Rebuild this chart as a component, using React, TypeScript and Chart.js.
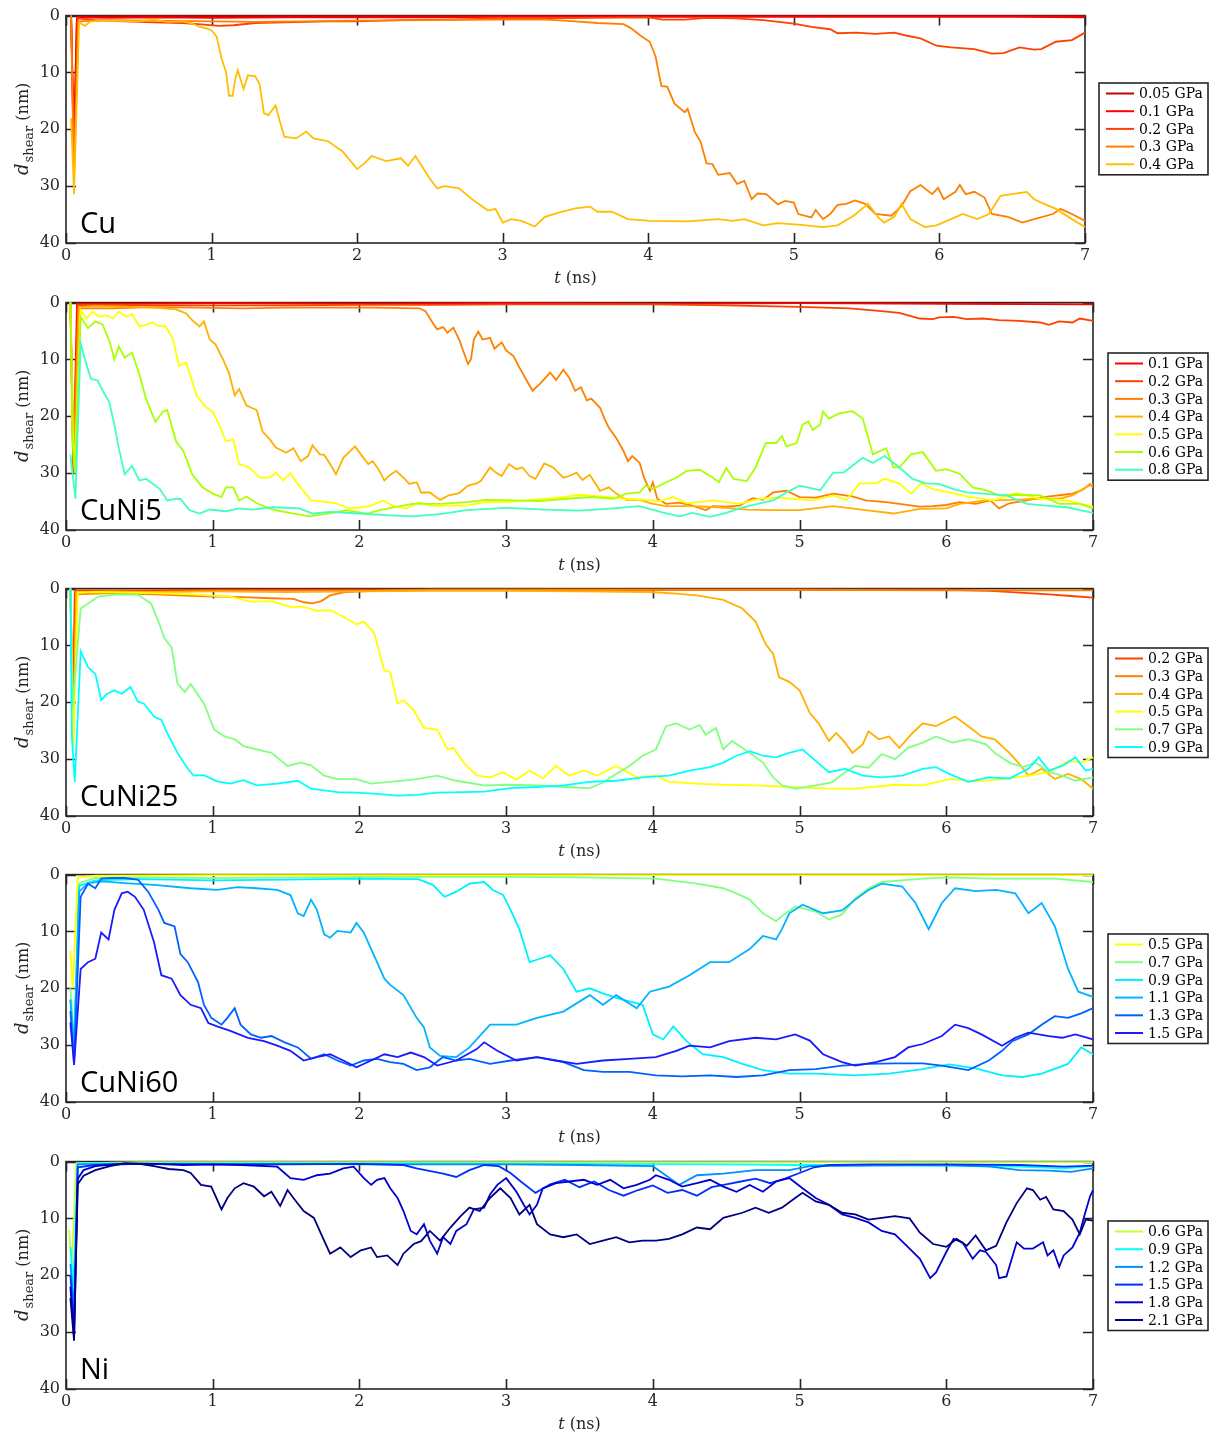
import React, { useEffect, useRef } from 'react';
import { Chart, registerables } from 'chart.js';
Chart.register(...registerables);

type Pt = [number, number];

// ---------- tick labels ----------
const xTicks = [0, 1, 2, 3, 4, 5, 6, 7];
const yTicks = [0, 10, 20, 30, 40];

// ---------- Cu ----------
const cuNames = ['0.05 GPa', '0.1 GPa', '0.2 GPa', '0.3 GPa', '0.4 GPa'];
const cuColors = ['#c80000', '#ff0000', '#ff4000', '#ff8000', '#ffbf00'];
const cu005: Pt[] = [[0.035,0],[0.055,22],[0.075,0.2],[0.5,0.1],[1,0.1],[2,0.1],[3,0.1],[4,0.1],[5,0.1],[6,0.1],[7,0.1]];
const cu01: Pt[] = [[0.035,0],[0.055,26],[0.075,0.3],[0.3,0.4],[0.6,0.3],[1,0.4],[1.5,0.3],[2,0.3],[2.5,0.3],[3,0.2],[3.5,0.2],[4,0.2],[4.5,0.2],[5,0.2],[5.5,0.2],[6,0.2],[6.5,0.2],[7,0.3]];
const cu02: Pt[] = [[0.035,0],[0.055,28],[0.08,0.5],[0.2,0.8],[0.4,1.0],[0.6,1.2],[0.8,1.3],[0.95,1.6],[1.05,1.8],[1.15,1.7],[1.3,1.3],[1.5,1.2],[1.8,1.0],[2.0,1.0],[2.3,0.8],[2.6,0.7],[3.0,0.5],[3.3,0.5],[3.6,0.4],[4.0,0.3],[4.1,0.7],[4.25,0.7],[4.4,0.4],[4.6,0.5],[4.79,0.8],[5.0,1.4],[5.12,2.0],[5.25,2.4],[5.3,3.1],[5.43,3.0],[5.56,3.2],[5.69,3.0],[5.77,3.5],[5.87,4.0],[5.98,5.3],[6.08,5.6],[6.24,5.9],[6.36,6.7],[6.44,6.6],[6.55,5.6],[6.65,6.0],[6.7,5.9],[6.8,4.6],[6.91,4.3],[7.0,3.0]];
const cu03: Pt[] = [[0.035,0],[0.055,29],[0.085,1.0],[0.3,0.8],[0.6,0.9],[1.0,1.0],[1.3,1.1],[1.6,1.0],[2.0,0.9],[2.5,0.8],[3.0,0.7],[3.3,0.7],[3.5,1.0],[3.65,1.3],[3.83,1.5],[3.88,2.2],[3.95,3.6],[4.01,4.6],[4.05,7.2],[4.09,12.4],[4.13,12.5],[4.18,15.5],[4.25,17],[4.27,16.4],[4.32,20.5],[4.36,22.2],[4.4,26],[4.44,26.1],[4.48,28],[4.56,27.7],[4.61,29.6],[4.66,29.1],[4.71,32.3],[4.75,31.3],[4.81,31.4],[4.89,33.2],[4.94,32.6],[5.0,32.9],[5.03,34.9],[5.12,35.5],[5.15,34.2],[5.2,35.8],[5.25,34.9],[5.3,33.3],[5.36,33.1],[5.42,32.5],[5.49,33.1],[5.56,34.9],[5.67,35.2],[5.74,33.5],[5.8,30.9],[5.87,29.8],[5.95,31.4],[5.99,30.3],[6.03,32.3],[6.11,31],[6.14,29.8],[6.18,31.4],[6.24,31],[6.31,32],[6.36,34.9],[6.47,35.4],[6.57,36.4],[6.65,35.8],[6.78,34.9],[6.83,34.0],[6.91,34.9],[7.0,36.1]];
const cu04: Pt[] = [[0.035,18],[0.055,31.4],[0.09,1.2],[0.13,1.8],[0.17,1.0],[0.3,0.9],[0.5,1.0],[0.6,0.7],[0.7,1.1],[0.8,1.0],[0.87,1.4],[0.92,2.0],[0.97,2.3],[1.0,2.6],[1.035,3.7],[1.07,7.7],[1.1,10],[1.12,14.1],[1.145,14.1],[1.16,11.5],[1.18,9.6],[1.22,12.9],[1.25,10.5],[1.3,10.7],[1.33,12.1],[1.36,17.2],[1.39,17.5],[1.44,15.8],[1.47,18.7],[1.5,21.3],[1.58,21.6],[1.65,20.4],[1.7,21.6],[1.8,22.1],[1.9,23.9],[2.0,27],[2.05,26],[2.1,24.7],[2.2,25.6],[2.3,25.1],[2.35,26.4],[2.4,24.7],[2.5,28.7],[2.55,30.4],[2.6,30],[2.7,30.4],[2.8,32.5],[2.85,33.4],[2.9,34.3],[2.95,34],[3.0,36.4],[3.06,35.8],[3.13,36.1],[3.22,37.1],[3.29,35.4],[3.39,34.6],[3.5,33.9],[3.6,33.6],[3.65,34.5],[3.75,34.5],[3.86,35.8],[4.01,36.1],[4.27,36.2],[4.48,35.8],[4.58,36.1],[4.66,35.8],[4.79,36.9],[4.89,36.5],[5.05,36.8],[5.2,37.2],[5.3,36.9],[5.41,35.2],[5.51,33.1],[5.58,35.5],[5.62,36.4],[5.69,35.4],[5.74,33.1],[5.8,35.8],[5.9,37.2],[5.98,36.9],[6.08,35.8],[6.16,34.9],[6.26,35.8],[6.34,34.9],[6.42,31.7],[6.52,31.3],[6.6,31.0],[6.65,32.3],[6.7,32.9],[6.8,34],[6.91,35.8],[7.0,37.2]];

// ---------- CuNi5 ----------
const n5Names = ['0.1 GPa', '0.2 GPa', '0.3 GPa', '0.4 GPa', '0.5 GPa', '0.6 GPa', '0.8 GPa'];
const n5Colors = ['#ff0000', '#ff4000', '#ff8000', '#ffb000', '#ffff00', '#aaff00', '#40ffc0'];
const n5_01: Pt[] = [[0.03,0],[0.05,30],[0.075,0.2],[0.5,0.2],[1,0.1],[2,0.2],[3,0.1],[4,0.2],[5,0.1],[6,0.2],[7,0.3]];
const n5_02: Pt[] = [[0.03,0],[0.05,29],[0.08,0.5],[0.3,0.4],[0.6,0.5],[1,0.5],[1.5,0.5],[2,0.4],[2.5,0.4],[3,0.3],[3.5,0.3],[4,0.3],[4.5,0.5],[5,0.75],[5.34,1.0],[5.52,1.4],[5.68,1.8],[5.82,2.8],[5.91,2.9],[5.95,2.6],[6.05,2.5],[6.14,2.9],[6.25,2.8],[6.36,3.1],[6.5,3.2],[6.64,3.5],[6.7,3.9],[6.77,3.3],[6.86,3.5],[6.91,2.8],[7.0,3.2]];
const n5_03: Pt[] = [[0.03,0],[0.05,28],[0.085,1.0],[0.3,1.0],[0.6,0.8],[0.9,0.9],[1.2,1.0],[1.5,0.9],[1.8,0.9],[2.1,0.9],[2.41,1.0],[2.45,1.5],[2.5,3.6],[2.53,4.7],[2.57,4.3],[2.6,5.3],[2.64,4.4],[2.68,6.5],[2.72,9.4],[2.74,10.8],[2.76,10],[2.78,6.5],[2.81,5.1],[2.84,6.5],[2.89,6.2],[2.92,8.1],[2.97,7],[3.0,8.4],[3.05,9.4],[3.09,11.4],[3.14,13.7],[3.18,15.5],[3.23,14.3],[3.3,12.3],[3.34,13.6],[3.39,11.8],[3.43,13.2],[3.47,15.5],[3.51,14.9],[3.55,17.2],[3.58,16.9],[3.64,18.5],[3.67,20.4],[3.7,22],[3.75,23.8],[3.8,26.1],[3.83,27.9],[3.86,27],[3.91,28.2],[3.94,30.8],[3.98,33.1],[4.0,31.6],[4.03,34.5],[4.09,35.4],[4.18,35.2],[4.27,35.7],[4.36,36.5],[4.41,35.8],[4.5,35.9],[4.59,35.7],[4.68,34.4],[4.75,34.7],[4.82,33.4],[4.91,33.1],[5.0,34.2],[5.11,34.3],[5.23,33.6],[5.36,34.1],[5.45,34.8],[5.59,35.1],[5.68,35.4],[5.82,35.9],[5.91,35.8],[6.0,35.6],[6.09,35.1],[6.2,35.4],[6.3,34.8],[6.36,36.2],[6.43,35.3],[6.55,34.8],[6.66,34.2],[6.8,33.8],[6.86,33.6],[6.93,32.9],[6.98,31.9],[7.0,32.5]];
const n5_04: Pt[] = [[0.03,0],[0.045,16.9],[0.06,30],[0.09,0.8],[0.2,0.6],[0.4,0.7],[0.6,0.9],[0.75,1.2],[0.82,1.9],[0.86,3.1],[0.91,4.2],[0.94,3.3],[0.98,6.5],[1.02,7.4],[1.07,10],[1.11,12.3],[1.15,16.3],[1.18,15.2],[1.23,18.1],[1.3,18.9],[1.34,22.7],[1.39,24.1],[1.43,25.5],[1.5,26.4],[1.55,25.6],[1.6,27.9],[1.65,27],[1.68,25.1],[1.73,26.7],[1.76,26.8],[1.8,28.4],[1.84,30.2],[1.89,27.3],[1.97,25.3],[2.01,26.7],[2.06,28.4],[2.09,27.9],[2.13,29.3],[2.17,31.3],[2.2,30.5],[2.25,29.6],[2.3,30.8],[2.34,31.9],[2.39,31.6],[2.42,33.4],[2.48,33.4],[2.55,34.7],[2.61,33.9],[2.68,33.5],[2.74,32.2],[2.8,31.8],[2.83,31.3],[2.89,29],[2.93,29.9],[2.97,30.5],[3.02,28.4],[3.07,29.3],[3.11,29],[3.16,30.5],[3.2,31],[3.26,28.3],[3.32,29],[3.39,30.8],[3.43,30.5],[3.48,29.9],[3.52,31.2],[3.57,30.3],[3.64,33.1],[3.7,32.5],[3.75,33.6],[3.82,34.7],[3.91,34.7],[4.0,35.4],[4.09,35.8],[4.27,35.8],[4.45,36],[4.64,36.4],[4.82,36.5],[5.0,36.5],[5.23,35.8],[5.45,36.5],[5.64,37.1],[5.82,36.3],[6.0,36.2],[6.09,35.4],[6.27,34.8],[6.45,34.7],[6.64,34.5],[6.77,34.5],[6.86,33.9],[6.95,32.5],[7.0,31.9]];
const n5_05: Pt[] = [[0.03,0],[0.045,22.1],[0.06,29],[0.1,1.3],[0.14,2.8],[0.18,1.6],[0.23,2.5],[0.27,2.2],[0.32,2.8],[0.36,1.6],[0.41,2.5],[0.45,2.0],[0.5,4.2],[0.545,3.9],[0.59,3.5],[0.625,4.1],[0.68,4.2],[0.73,6.5],[0.77,11.1],[0.82,10.6],[0.89,16.3],[0.95,18.3],[1.0,19.2],[1.045,21.5],[1.09,24.4],[1.14,24.1],[1.18,28.4],[1.25,29],[1.32,30.8],[1.39,30.8],[1.43,29.9],[1.48,31.3],[1.53,30],[1.57,31.6],[1.62,33.2],[1.67,34.8],[1.75,35],[1.84,35.3],[1.93,36.2],[2.01,36],[2.08,35.7],[2.16,34.8],[2.23,35.8],[2.32,36.2],[2.41,35.1],[2.5,35.8],[2.59,35.7],[2.73,35.7],[2.86,35.1],[3.0,35.1],[3.18,34.7],[3.36,34.3],[3.5,33.8],[3.64,34.1],[3.82,34.5],[3.95,34.7],[4.05,34.9],[4.14,34.2],[4.23,35.3],[4.41,34.8],[4.59,35.4],[4.73,34.5],[4.86,34.3],[4.95,34.5],[5.09,34.8],[5.23,33.9],[5.32,34.7],[5.41,31.8],[5.52,31.8],[5.58,31],[5.68,31.8],[5.76,33.6],[5.83,31.8],[5.91,32.8],[6.02,33.4],[6.14,34.1],[6.32,34.8],[6.48,33.5],[6.64,34.5],[6.82,34.8],[7.0,35.9]];
const n5_06: Pt[] = [[0.03,0],[0.045,24.4],[0.06,30],[0.1,2.5],[0.15,4.5],[0.2,3.3],[0.25,3.9],[0.3,7.1],[0.33,10],[0.36,7.7],[0.4,9.7],[0.45,8.8],[0.5,12.6],[0.545,16.9],[0.61,21],[0.66,19.2],[0.69,18.9],[0.75,24.4],[0.8,26.1],[0.86,30.2],[0.93,32.5],[1.0,33.6],[1.06,34.2],[1.09,32.5],[1.14,32.5],[1.18,34.8],[1.23,34.1],[1.3,35.3],[1.41,36.4],[1.55,37.1],[1.66,37.6],[1.82,37.0],[1.91,36.5],[2.05,37.1],[2.14,36.5],[2.23,36],[2.36,35.4],[2.55,35.4],[2.73,35.1],[2.86,34.7],[3.05,34.8],[3.23,34.9],[3.41,34.5],[3.59,34.2],[3.73,34.5],[3.82,33.6],[3.91,33.4],[3.95,32.2],[4.0,32.8],[4.09,31.6],[4.16,30.8],[4.23,29.6],[4.32,29.4],[4.41,30.8],[4.45,31.6],[4.5,29.1],[4.55,31],[4.64,31.4],[4.7,29.0],[4.77,24.7],[4.84,24.7],[4.88,23.5],[4.91,25.3],[4.98,24.7],[5.02,21.5],[5.06,20.9],[5.09,22.4],[5.14,21.5],[5.16,19.2],[5.2,20.4],[5.27,19.5],[5.36,19.1],[5.43,20.4],[5.5,26.7],[5.59,25.6],[5.64,29],[5.68,29],[5.76,26.7],[5.84,26.3],[5.93,29.6],[6.0,29.3],[6.09,30.1],[6.18,32.5],[6.27,33],[6.36,33.9],[6.5,33.8],[6.64,33.9],[6.77,35.4],[6.91,35.4],[7.0,36.2]];
const n5_08: Pt[] = [[0.03,26.7],[0.064,34.5],[0.1,7.1],[0.136,10.6],[0.17,13.4],[0.216,13.7],[0.25,15.5],[0.295,17.5],[0.33,21.5],[0.36,25.6],[0.4,30.2],[0.45,28.7],[0.5,31.3],[0.545,31],[0.64,32.8],[0.69,34.8],[0.73,34.6],[0.78,34.5],[0.84,36.5],[0.91,37.1],[0.98,36.4],[1.09,36.7],[1.18,36.2],[1.27,36.4],[1.41,36],[1.59,36.2],[1.68,37.1],[1.8,36.8],[2.0,37.1],[2.18,37.4],[2.36,37.6],[2.55,37.2],[2.73,36.5],[3.0,36.1],[3.27,36.4],[3.5,36.6],[3.73,36.2],[3.91,35.8],[4.05,36.8],[4.18,37.6],[4.27,37],[4.39,37.7],[4.5,37],[4.59,36.2],[4.7,35.5],[4.82,34.8],[4.91,33.4],[5.0,32.2],[5.14,33],[5.23,29.9],[5.3,29.9],[5.36,28.7],[5.43,27.3],[5.5,28.2],[5.58,27],[5.68,29],[5.77,31],[5.86,31.8],[5.95,31.9],[6.05,32.8],[6.14,33.4],[6.25,33.6],[6.41,33.9],[6.55,35.4],[6.68,35.7],[6.82,36],[7.0,37]];

// ---------- CuNi25 ----------
const n25Names = ['0.2 GPa', '0.3 GPa', '0.4 GPa', '0.5 GPa', '0.7 GPa', '0.9 GPa'];
const n25Colors = ['#ff4000', '#ff8000', '#ffb000', '#ffff00', '#80ff80', '#00ffff'];
const n25_02: Pt[] = [[0.03,0],[0.045,21],[0.06,0.3],[0.5,0.3],[1,0.2],[2,0.2],[3,0.2],[4,0.2],[5,0.2],[6,0.2],[6.3,0.4],[6.5,0.7],[6.7,1.0],[6.85,1.3],[7.0,1.6]];
const n25_03: Pt[] = [[0.03,0],[0.05,24],[0.07,1.0],[0.3,0.8],[0.6,1.0],[0.9,1.3],[1.2,1.5],[1.4,1.7],[1.55,1.8],[1.62,2.4],[1.68,2.6],[1.74,2.2],[1.8,1.2],[1.9,0.6],[2.2,0.3],[2.5,0.2],[3,0.2],[4,0.2],[5,0.2],[6,0.3],[7,0.3]];
const n25_04: Pt[] = [[0.03,0],[0.05,26],[0.07,0.6],[0.3,0.5],[0.6,0.6],[1.0,0.5],[1.5,0.6],[2.0,0.5],[2.5,0.4],[3.0,0.4],[3.5,0.5],[3.98,0.6],[4.16,0.9],[4.3,1.2],[4.48,2.0],[4.61,3.5],[4.7,5.8],[4.77,9.8],[4.82,11.5],[4.86,15.6],[4.93,16.4],[5.0,17.9],[5.07,21.9],[5.13,23.7],[5.2,26.8],[5.25,25.4],[5.31,27.1],[5.36,28.9],[5.43,27.4],[5.47,25.1],[5.54,26.5],[5.61,26],[5.68,28],[5.77,25.4],[5.84,23.7],[5.93,24.2],[6.06,22.5],[6.15,24.2],[6.24,26],[6.33,26.5],[6.43,28.9],[6.49,30.6],[6.56,32.9],[6.65,31.7],[6.74,33.5],[6.83,32.6],[6.92,33.5],[7.0,35.2]];
const n25_05: Pt[] = [[0.03,0],[0.05,28],[0.08,0.7],[0.2,0.6],[0.4,0.7],[0.6,0.8],[0.85,1.0],[1.12,1.4],[1.26,2.3],[1.4,2.2],[1.53,3.2],[1.62,3.2],[1.71,3.9],[1.8,3.8],[1.89,4.9],[1.98,6.3],[2.03,5.8],[2.1,7.8],[2.17,14.4],[2.21,14.7],[2.26,20.2],[2.3,19.6],[2.37,21.4],[2.44,24.5],[2.53,24.8],[2.6,28.3],[2.64,28],[2.71,30.6],[2.8,32.9],[2.89,33.2],[2.98,32.3],[3.07,33.6],[3.16,32],[3.25,33.4],[3.34,31.2],[3.43,32.9],[3.53,32],[3.62,32.9],[3.75,31.2],[3.89,33.2],[4.02,32.9],[4.11,34],[4.3,34.3],[4.48,34.5],[4.7,34.6],[4.93,34.9],[5.2,35.2],[5.38,35.2],[5.65,34.5],[5.84,34.6],[6.02,33.5],[6.2,33.9],[6.38,33.5],[6.56,32.9],[6.7,32.3],[6.83,30.3],[6.92,30.6],[7.0,29.7]];
const n25_07: Pt[] = [[0.03,0],[0.045,21],[0.1,3.5],[0.22,1.4],[0.35,1.0],[0.49,1.1],[0.58,2.6],[0.63,5.8],[0.67,8.7],[0.72,10.4],[0.76,16.7],[0.81,18.2],[0.85,16.8],[0.94,20.2],[1.01,24.8],[1.08,26],[1.15,26.5],[1.21,27.7],[1.3,28.3],[1.4,28.9],[1.51,31.2],[1.6,30.6],[1.67,31.1],[1.76,32.9],[1.85,33.5],[1.98,33.5],[2.08,34.3],[2.21,34],[2.39,33.5],[2.53,32.9],[2.66,33.8],[2.85,34.6],[3.03,34.5],[3.21,34.6],[3.39,34.9],[3.57,35.1],[3.66,34.1],[3.75,32.6],[3.84,31.2],[3.93,29.4],[4.02,28.3],[4.09,24.2],[4.16,23.7],[4.25,24.8],[4.32,24],[4.36,25.7],[4.43,24.5],[4.48,28.3],[4.54,26.8],[4.66,28.9],[4.75,30.6],[4.82,33.2],[4.88,34.6],[4.97,35.2],[5.11,34.6],[5.22,34.1],[5.31,32.3],[5.38,31.2],[5.47,31.5],[5.56,29.1],[5.65,30],[5.74,28],[5.84,27.1],[5.93,26],[6.04,27.1],[6.15,26.5],[6.27,27.4],[6.33,28.9],[6.43,30.6],[6.52,31.4],[6.61,30.6],[6.7,32.3],[6.79,32.9],[6.88,33.8],[7.0,33.2]];
const n25_09: Pt[] = [[0.03,0],[0.04,26],[0.06,34],[0.1,11],[0.15,13.8],[0.2,15],[0.24,19.6],[0.28,18.5],[0.33,17.9],[0.38,18.5],[0.44,17.3],[0.49,19.9],[0.53,20.2],[0.6,22.5],[0.65,23.1],[0.69,25.4],[0.76,28.9],[0.83,31.7],[0.87,32.9],[0.94,32.8],[1.03,33.9],[1.12,34.3],[1.21,33.7],[1.3,34.6],[1.44,34.3],[1.58,33.8],[1.67,35.2],[1.76,35.5],[1.85,35.8],[1.98,35.9],[2.12,36.1],[2.26,36.4],[2.39,36.3],[2.53,35.9],[2.71,35.8],[2.85,35.7],[3.03,35.1],[3.21,34.9],[3.39,34.6],[3.57,34],[3.75,33.8],[3.93,33.2],[4.11,32.9],[4.25,32],[4.39,31.4],[4.48,30.6],[4.57,29.4],[4.66,28.6],[4.75,29.4],[4.84,29.7],[4.93,28.9],[5.02,28.3],[5.11,30.3],[5.2,32.3],[5.31,31.7],[5.43,32.9],[5.56,33.2],[5.7,32.9],[5.84,31.7],[5.93,31.4],[6.02,32.6],[6.15,34],[6.29,33.2],[6.43,33.4],[6.56,31.7],[6.63,29.7],[6.7,32],[6.79,31.2],[6.88,29.7],[6.95,32],[7.0,31.7]];

// ---------- CuNi60 ----------
const n60Names = ['0.5 GPa', '0.7 GPa', '0.9 GPa', '1.1 GPa', '1.3 GPa', '1.5 GPa'];
const n60Colors = ['#ffff00', '#80ff80', '#00f0ff', '#00b4ff', '#0060ff', '#1a1aff'];
const n60_05: Pt[] = [[0.03,13.4],[0.045,20],[0.08,0.5],[0.2,0.2],[1,0.1],[2,0.1],[3,0.1],[4,0.1],[5,0.1],[6,0.1],[7,0.1]];
const n60_07: Pt[] = [[0.03,20],[0.055,29],[0.09,1.5],[0.2,0.6],[0.5,0.5],[1,0.6],[1.5,0.5],[2,0.4],[2.5,0.4],[3,0.4],[3.5,0.5],[4.02,0.7],[4.3,1.6],[4.48,2.4],[4.57,3.3],[4.66,4.4],[4.75,6.8],[4.84,8.2],[4.88,7.3],[4.97,5.6],[5.11,6.5],[5.2,7.9],[5.29,7.0],[5.38,4.2],[5.47,2.4],[5.56,1.3],[5.84,0.7],[6.02,0.5],[6.29,0.7],[6.74,0.7],[7.0,1.3]];
const n60_09: Pt[] = [[0.03,22],[0.055,30],[0.09,2],[0.2,1.0],[0.5,0.8],[1.0,1.0],[1.5,0.9],[2.0,0.7],[2.4,0.8],[2.5,1.8],[2.58,3.9],[2.66,3.0],[2.75,1.6],[2.85,1.3],[2.91,2.7],[2.98,3.6],[3.03,6.2],[3.09,9.6],[3.16,15.4],[3.23,14.8],[3.3,14.2],[3.39,16.6],[3.48,20.6],[3.57,20],[3.66,20.9],[3.75,21.7],[3.84,22.3],[3.93,22.9],[4.0,28.1],[4.07,29],[4.14,26.7],[4.23,29.3],[4.34,31.6],[4.48,32.1],[4.61,33.3],[4.75,34.4],[4.93,35],[5.11,35],[5.38,35.3],[5.61,35],[5.84,34.2],[6.02,33.4],[6.2,34.1],[6.38,35.3],[6.52,35.6],[6.65,35],[6.83,33.3],[6.92,30.4],[7.0,31.6]];
const n60_11: Pt[] = [[0.03,22],[0.055,31],[0.09,3.0],[0.15,1.5],[0.25,1.2],[0.4,1.5],[0.6,1.8],[0.85,2.4],[1.03,2.7],[1.17,2.2],[1.3,2.4],[1.44,2.7],[1.53,3.6],[1.58,6.8],[1.62,7.3],[1.67,4.4],[1.71,6.2],[1.76,10.5],[1.8,11.1],[1.85,9.9],[1.94,10.2],[1.98,8.5],[2.03,10.2],[2.08,13.1],[2.12,15.4],[2.17,18.3],[2.21,19.4],[2.3,21.2],[2.39,25.2],[2.44,26.9],[2.48,30.4],[2.55,31.9],[2.66,32.1],[2.75,30.4],[2.89,26.4],[3.07,26.4],[3.21,25.2],[3.39,24.1],[3.57,21.2],[3.66,22.9],[3.75,21.2],[3.89,23.5],[3.98,20.6],[4.11,19.7],[4.25,17.7],[4.39,15.4],[4.52,15.4],[4.66,13.1],[4.75,10.8],[4.84,11.4],[4.88,9.6],[4.93,6.8],[5.02,5.3],[5.16,6.8],[5.29,6.3],[5.38,4.4],[5.47,2.7],[5.56,1.6],[5.7,2.1],[5.79,5],[5.88,9.6],[5.97,5],[6.06,2.4],[6.2,2.9],[6.34,2.7],[6.47,3.3],[6.56,6.8],[6.65,5],[6.74,9.1],[6.83,16.6],[6.9,20.6],[7.0,21.5]];
const n60_13: Pt[] = [[0.03,24],[0.055,33],[0.1,3.9],[0.15,1.6],[0.2,2.4],[0.24,0.7],[0.31,0.6],[0.4,0.6],[0.49,0.9],[0.56,3],[0.63,6.2],[0.67,8.5],[0.74,9.1],[0.78,14],[0.83,15.4],[0.9,18.9],[0.94,22.9],[0.99,25.2],[1.06,26.4],[1.1,25.2],[1.15,23.5],[1.19,26.4],[1.26,28.1],[1.33,28.7],[1.4,28.4],[1.49,29.5],[1.58,30.4],[1.67,32.4],[1.76,31.6],[1.85,32.7],[1.94,33.6],[2.03,32.7],[2.12,32.4],[2.21,33],[2.3,33.3],[2.39,34.4],[2.48,33.9],[2.57,32.1],[2.66,32.7],[2.75,32.4],[2.89,33.3],[3.03,32.7],[3.21,32.1],[3.39,33],[3.53,34.4],[3.66,34.7],[3.84,34.7],[4.02,35.3],[4.2,35.5],[4.39,35.3],[4.57,35.6],[4.75,35.3],[4.93,34.4],[5.11,34.2],[5.29,33.6],[5.47,33.3],[5.65,33.2],[5.84,33.2],[5.97,33.6],[6.15,34.4],[6.29,32.7],[6.38,31],[6.45,29.3],[6.56,28.1],[6.65,26.4],[6.74,24.9],[6.83,25.2],[6.92,24.4],[7.0,23.5]];
const n60_15: Pt[] = [[0.03,26],[0.055,33.5],[0.1,16.6],[0.15,15.4],[0.2,14.8],[0.24,10.2],[0.29,11.4],[0.33,6.2],[0.38,3.3],[0.42,3.0],[0.47,3.9],[0.53,6.2],[0.6,11.9],[0.65,17.7],[0.72,18.3],[0.78,21.2],[0.85,22.9],[0.92,23.5],[0.97,26.1],[1.03,26.7],[1.12,27.5],[1.24,28.7],[1.35,29.3],[1.44,30.1],[1.53,31],[1.62,32.7],[1.71,32.1],[1.8,31.6],[1.89,32.7],[1.98,33.9],[2.08,32.7],[2.17,31.6],[2.26,32.1],[2.35,31.3],[2.44,32.1],[2.53,33.6],[2.66,32.7],[2.8,30.7],[2.85,29.5],[2.94,31],[3.07,32.7],[3.21,32.1],[3.34,32.7],[3.48,33.3],[3.66,32.7],[3.84,32.4],[4.02,32.1],[4.16,31],[4.25,30.1],[4.39,30.4],[4.52,29.3],[4.7,28.7],[4.84,29],[4.97,28.1],[5.07,29.2],[5.16,31.6],[5.29,33],[5.38,33.6],[5.52,33],[5.65,32.1],[5.74,30.4],[5.84,29.8],[5.97,28.4],[6.06,26.4],[6.15,27],[6.24,28.1],[6.38,30.1],[6.47,28.7],[6.56,27.8],[6.7,28.4],[6.79,28.7],[6.88,28.1],[7.0,29]];

// ---------- Ni ----------
const niNames = ['0.6 GPa', '0.9 GPa', '1.2 GPa', '1.5 GPa', '1.8 GPa', '2.1 GPa'];
const niColors = ['#bfff40', '#00ffff', '#0090ff', '#0030ff', '#0000d0', '#000080'];
const ni06: Pt[] = [[0.02,12],[0.04,18],[0.07,0.3],[0.5,0.1],[1,0.1],[2,0.1],[3,0.1],[4,0.1],[5,0.1],[6,0.1],[7,0.1]];
const ni09: Pt[] = [[0.03,15],[0.05,22],[0.08,0.3],[0.5,0.3],[1.5,0.3],[2.5,0.3],[3.5,0.4],[4.5,0.5],[5,0.6],[5.5,0.6],[6,0.7],[6.5,0.9],[6.8,1.2],[7,0.8]];
const ni12: Pt[] = [[0.03,18],[0.055,26],[0.08,0.5],[0.5,0.4],[1,0.5],[1.5,0.4],[2,0.5],[2.5,0.5],[3,0.5],[3.5,0.6],[4.0,0.8],[4.07,2.1],[4.18,4.1],[4.3,2.4],[4.48,2.1],[4.7,1.5],[4.93,1.5],[5.07,0.8],[5.5,0.7],[6,0.6],[6.3,0.9],[6.5,1.5],[6.7,1.6],[6.85,1.8],[7,1.2]];
const ni15: Pt[] = [[0.03,20],[0.055,29],[0.08,1.0],[0.2,0.6],[0.5,0.4],[1,0.5],[1.5,0.5],[2.0,0.4],[2.3,0.6],[2.39,1.2],[2.57,2.1],[2.66,2.7],[2.75,1.5],[2.85,0.6],[2.95,0.8],[3.03,2.0],[3.1,3.5],[3.2,5.5],[3.3,4.0],[3.4,3.2],[3.5,4.5],[3.6,3.5],[3.7,5.0],[3.8,6.0],[3.9,5.0],[4.0,4.2],[4.1,5.5],[4.2,5.0],[4.3,6.0],[4.4,4.5],[4.5,4.0],[4.6,3.5],[4.7,3.0],[4.8,3.8],[4.9,3.0],[5.0,2.0],[5.1,1.0],[5.2,0.6],[5.5,0.5],[6.0,0.5],[6.5,0.6],[6.8,0.9],[7,0.7]];
const ni18: Pt[] = [[0.03,22],[0.055,31],[0.08,3],[0.12,1.5],[0.2,0.8],[0.4,0.3],[0.6,0.4],[0.8,0.6],[1.0,0.5],[1.2,0.6],[1.44,0.9],[1.53,2.9],[1.62,3.2],[1.71,2.4],[1.8,2.1],[1.89,1.2],[1.96,0.9],[2.03,2.9],[2.08,4.1],[2.12,3.2],[2.17,2.9],[2.21,4.7],[2.26,6.4],[2.3,8.7],[2.35,12.2],[2.39,12.8],[2.44,11],[2.48,13.9],[2.53,16.2],[2.57,13.3],[2.62,14.5],[2.66,12.2],[2.73,11],[2.78,8.4],[2.85,8.1],[2.89,5.8],[2.94,4.1],[3.0,2.9],[3.07,5.3],[3.12,7.6],[3.16,9.3],[3.21,7.6],[3.25,4.7],[3.34,3.8],[3.43,3.5],[3.53,3.2],[3.62,4.1],[3.71,3.2],[3.8,4.7],[3.89,4.1],[3.98,3.2],[4.02,2.4],[4.11,3.2],[4.2,4.4],[4.3,3.8],[4.39,3.2],[4.48,4.4],[4.57,5.3],[4.66,4.1],[4.75,5.3],[4.84,3.5],[4.93,2.9],[5.02,4.7],[5.11,6.4],[5.2,7.6],[5.29,9.3],[5.38,9.9],[5.47,10.7],[5.56,12.2],[5.65,12.8],[5.75,15.3],[5.82,17.1],[5.89,20.5],[5.93,19.5],[6.0,15.9],[6.05,13.6],[6.11,14.2],[6.18,17.1],[6.23,15.6],[6.27,15.9],[6.34,18.2],[6.36,20.5],[6.41,20.2],[6.48,14.2],[6.53,15.3],[6.59,15.3],[6.66,14.2],[6.69,16.5],[6.73,15.6],[6.77,18.5],[6.8,16.5],[6.86,15.1],[6.91,12.5],[6.94,9.6],[6.98,6.1],[7.0,5]];
const ni21: Pt[] = [[0.03,24],[0.055,31.5],[0.08,4],[0.12,2.5],[0.2,1.5],[0.3,0.8],[0.4,0.3],[0.5,0.4],[0.6,0.8],[0.7,1.3],[0.8,1.5],[0.85,2.0],[0.92,4.1],[0.99,4.4],[1.06,8.4],[1.1,6.4],[1.15,4.7],[1.21,3.8],[1.28,4.4],[1.35,6.1],[1.4,5.3],[1.46,7.8],[1.51,5],[1.55,6.4],[1.62,8.7],[1.69,9.9],[1.74,12.8],[1.8,16.2],[1.87,15.1],[1.94,16.8],[2.01,15.6],[2.08,15.1],[2.12,16.8],[2.19,16.5],[2.26,18.2],[2.3,16.2],[2.37,14.5],[2.42,14],[2.48,12.2],[2.55,13.9],[2.62,11.6],[2.69,9.6],[2.75,8.1],[2.82,8.7],[2.89,6.4],[2.96,4.7],[3.03,6.4],[3.09,9.3],[3.16,7.6],[3.21,11],[3.3,12.8],[3.39,13.3],[3.48,12.8],[3.57,14.5],[3.66,13.9],[3.75,13.3],[3.84,14.2],[3.93,13.9],[4.02,13.9],[4.11,13.6],[4.2,12.8],[4.3,11.6],[4.39,11.9],[4.48,9.9],[4.61,9],[4.7,8.1],[4.79,9],[4.88,8.1],[4.97,6.4],[5.02,5.5],[5.11,7],[5.2,7.6],[5.29,9],[5.38,9.3],[5.47,10.2],[5.56,9.9],[5.65,9.6],[5.75,10],[5.82,12.5],[5.91,14.5],[6.0,15],[6.07,13.6],[6.14,14.8],[6.2,13],[6.27,15.6],[6.34,14.8],[6.41,10.7],[6.48,7.3],[6.55,4.7],[6.59,5.0],[6.64,6.7],[6.68,6.2],[6.73,8.4],[6.8,8.7],[6.86,10.2],[6.91,12.8],[6.95,10.2],[7.0,10.4]];

// ---------- panel definitions ----------
const PANEL_H = 287;
const panelTops = [0, 287, 573, 859, 1146];
const panelLabels = ['Cu', 'CuNi5', 'CuNi25', 'CuNi60', 'Ni'];
const panelRights = [1085, 1093, 1093, 1093, 1093];
const legendWidths = [109, 100, 100, 100, 100];
const panelSeries: Pt[][][] = [
  [cu005, cu01, cu02, cu03, cu04],
  [n5_01, n5_02, n5_03, n5_04, n5_05, n5_06, n5_08],
  [n25_02, n25_03, n25_04, n25_05, n25_07, n25_09],
  [n60_05, n60_07, n60_09, n60_11, n60_13, n60_15],
  [ni06, ni09, ni12, ni15, ni18, ni21],
];
const panelNames = [cuNames, n5Names, n25Names, n60Names, niNames];
const panelColors = [cuColors, n5Colors, n25Colors, n60Colors, niColors];

const AX = '#262626';
const SERIF = "'DejaVu Serif', serif";

function Panel({ idx }: { idx: number }) {
  const ref = useRef<HTMLCanvasElement>(null);
  useEffect(() => {
    const canvas = ref.current;
    if (!canvas) return;
    const series = panelSeries[idx];
    const names = panelNames[idx];
    const colors = panelColors[idx];
    const right = panelRights[idx];
    const n = series.length;

    const decor = {
      id: 'decor' + idx,
      beforeDatasetsDraw(chart: any) {
        const ctx = chart.ctx as CanvasRenderingContext2D;
        const a = chart.chartArea;
        const xs = chart.scales.x;
        const ys = chart.scales.y;
        ctx.save();
        ctx.strokeStyle = AX;
        ctx.lineWidth = 1.6;
        ctx.strokeRect(a.left, a.top, a.right - a.left, a.bottom - a.top);
        const TL = 10;
        ctx.beginPath();
        xTicks.forEach((v) => {
          const px = Math.round(xs.getPixelForValue(v)) + 0.5;
          ctx.moveTo(px, a.bottom); ctx.lineTo(px, a.bottom - TL);
          ctx.moveTo(px, a.top); ctx.lineTo(px, a.top + TL);
        });
        yTicks.forEach((v) => {
          const py = Math.round(ys.getPixelForValue(v)) + 0.5;
          ctx.moveTo(a.left, py); ctx.lineTo(a.left + TL, py);
          ctx.moveTo(a.right, py); ctx.lineTo(a.right - TL, py);
        });
        ctx.stroke();
        ctx.restore();
      },
      afterDatasetsDraw(chart: any) {
        const ctx = chart.ctx as CanvasRenderingContext2D;
        const a = chart.chartArea;
        ctx.save();
        // panel label
        ctx.fillStyle = '#000';
        ctx.font = "29px 'Open Sans', sans-serif";
        ctx.textAlign = 'left';
        ctx.textBaseline = 'alphabetic';
        ctx.fillText(panelLabels[idx], a.left + 14, a.bottom - 10);

        // x title: t (ns)
        ctx.fillStyle = AX;
        ctx.textBaseline = 'middle';
        const cx = (a.left + a.right) / 2;
        ctx.font = `italic 16px ${SERIF}`;
        const wT = ctx.measureText('t').width;
        ctx.font = `16px ${SERIF}`;
        const wR = ctx.measureText(' (ns)').width;
        const x0 = cx - (wT + wR) / 2;
        ctx.font = `italic 16px ${SERIF}`;
        ctx.fillText('t', x0, a.bottom + 36);
        ctx.font = `16px ${SERIF}`;
        ctx.fillText(' (ns)', x0 + wT, a.bottom + 36);

        // y title: d_shear (nm)
        ctx.save();
        ctx.translate(22, (a.top + a.bottom) / 2);
        ctx.rotate(-Math.PI / 2);
        ctx.textBaseline = 'alphabetic';
        ctx.font = `italic 18px ${SERIF}`;
        const wd = ctx.measureText('d').width;
        ctx.font = `13px ${SERIF}`;
        const ws = ctx.measureText('shear').width;
        ctx.font = `16px ${SERIF}`;
        const wn = ctx.measureText(' (nm)').width;
        const y0 = -(wd + ws + wn) / 2;
        ctx.font = `italic 18px ${SERIF}`;
        ctx.fillText('d', y0, 6);
        ctx.font = `13px ${SERIF}`;
        ctx.fillText('shear', y0 + wd + 1, 11);
        ctx.font = `16px ${SERIF}`;
        ctx.fillText(' (nm)', y0 + wd + ws + 1, 6);
        ctx.restore();

        // legend
        const lw = legendWidths[idx];
        const rowH = 17.7;
        const lh = 21 + (n - 1) * rowH;
        const lx = a.right + (idx === 0 ? 14 : 15);
        const ly = Math.round((a.top + a.bottom) / 2 - lh / 2);
        ctx.fillStyle = '#fff';
        ctx.fillRect(lx, ly, lw, lh);
        ctx.strokeStyle = AX;
        ctx.lineWidth = 1.6;
        ctx.strokeRect(lx, ly, lw, lh);
        ctx.font = `14px ${SERIF}`;
        ctx.textBaseline = 'middle';
        ctx.textAlign = 'left';
        names.forEach((nm, i) => {
          const ry = ly + 10.5 + i * rowH;
          ctx.strokeStyle = colors[i];
          ctx.lineWidth = 2;
          ctx.beginPath();
          ctx.moveTo(lx + 7, ry);
          ctx.lineTo(lx + 35, ry);
          ctx.stroke();
          ctx.fillStyle = '#000';
          ctx.fillText(nm, lx + 40, ry + 1);
        });
        ctx.restore();
      },
    };

    const chart = new Chart(canvas, {
      type: 'line',
      data: {
        datasets: series.map((s, i) => ({
          label: names[i],
          data: s.map(([x, y]) => ({ x, y })),
          borderColor: colors[i],
          backgroundColor: colors[i],
          borderWidth: 1.8,
          pointRadius: 0,
          fill: false,
          tension: 0,
          clip: 2,
          order: n - i,
        })),
      },
      options: {
        responsive: false,
        animation: false,
        events: [],
        layout: { padding: { top: 12, left: 0, right: 1214 - right, bottom: 0 } },
        plugins: { legend: { display: false }, tooltip: { enabled: false } },
        scales: {
          x: {
            type: 'linear',
            min: 0,
            max: 7,
            afterBuildTicks: (s: any) => { s.ticks = xTicks.map((v) => ({ value: v })); },
            ticks: { font: { family: SERIF, size: 16 }, color: AX, padding: 3, maxRotation: 0, autoSkip: false },
            grid: { display: false, drawTicks: false },
            border: { display: false },
            afterFit: (s: any) => { s.height = 44; },
          },
          y: {
            type: 'linear',
            reverse: true,
            min: 0,
            max: 40,
            afterBuildTicks: (s: any) => { s.ticks = yTicks.map((v) => ({ value: v })); },
            ticks: { font: { family: SERIF, size: 16 }, color: AX, padding: 6, autoSkip: false },
            grid: { display: false, drawTicks: false },
            border: { display: false },
            afterFit: (s: any) => { s.width = 66; },
          },
        },
      } as any,
      plugins: [decor],
    });
    return () => chart.destroy();
  }, [idx]);

  return (
    <canvas
      ref={ref}
      width={1214}
      height={PANEL_H}
      style={{ position: 'absolute', left: 0, top: panelTops[idx], width: 1214, height: PANEL_H, display: 'block' }}
    />
  );
}

export default function App() {
  return (
    <div style={{ position: 'absolute', left: 0, top: 0, width: 1214, height: 1437, background: '#fff' }}>
      {[0, 1, 2, 3, 4].map((i) => (
        <Panel key={i} idx={i} />
      ))}
    </div>
  );
}
